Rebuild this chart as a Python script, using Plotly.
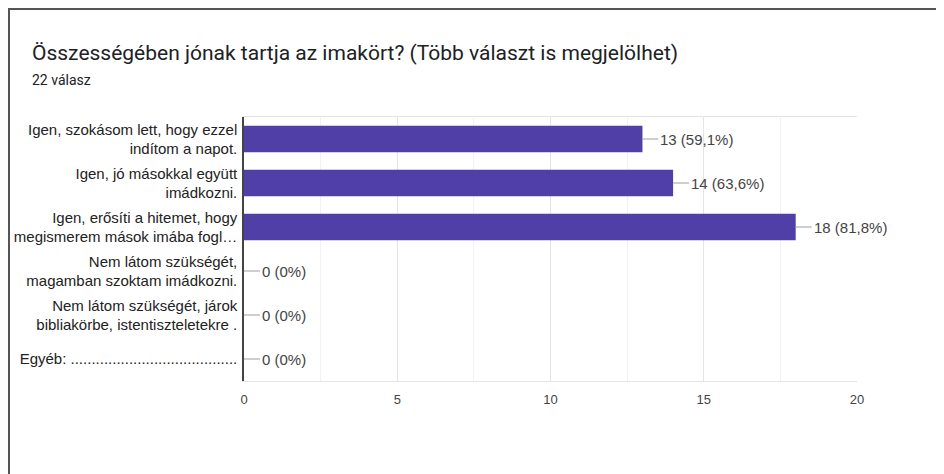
import plotly.graph_objects as go

categories = [
    "Igen, szokásom lett, hogy ezzel<br>indítom a napot.",
    "Igen, jó másokkal együtt<br>imádkozni.",
    "Igen, erősíti a hitemet, hogy<br>megismerem mások imába fogl…",
    "Nem látom szükségét,<br>magamban szoktam imádkozni.",
    "Nem látom szükségét, járok<br>bibliakörbe, istentiszteletekre .",
    "Egyéb: ........................................",
]
counts = [13, 14, 18, 0, 0, 0]
total_responses = 22
x_ticks = [0, 5, 10, 15, 20]

title_text = "Összességében jónak tartja az imakört? (Több választ is megjelölhet)"
subtitle_text = f"{total_responses} válasz"


def label(v):
    pct = v / total_responses * 100
    if abs(pct - round(pct)) < 1e-9:
        p = f"{int(round(pct))}"
    else:
        p = f"{pct:.1f}".replace(".", ",")
    return f"{v} ({p}%)"


TFONT = "Roboto, Arial, sans-serif"
FONT = "Liberation Sans, Arial, sans-serif"
BAR = "#4f3fa6"

# page is offset by the default 8px body margin
O = 8
W, H = 944 - O, 474 - O
L, R, T, B = 244 - O, 87, 117 - O, 93
pw, ph = W - L - R, H - T - B


def px(X):  # page x -> paper
    return (X - O - L) / pw


def py(Y):  # page y -> paper
    return (H - B - (Y - O)) / ph


fig = go.Figure()
fig.add_trace(go.Bar(
    x=counts, y=categories, orientation="h",
    marker=dict(color=BAR, line=dict(width=0)),
    width=0.6, hoverinfo="skip",
))

for v, c in zip(counts, categories):
    fig.add_annotation(
        x=v, y=c, xref="x", yref="y", text=label(v),
        showarrow=True, arrowhead=0, arrowwidth=1, arrowcolor="#9e9e9e",
        ax=16, ay=0, xanchor="left", yanchor="middle",
        font=dict(family=FONT, size=15, color="#444444"),
        standoff=0, startstandoff=0,
    )

# outer frame (left & top)
fig.add_shape(type="line", xref="paper", yref="paper",
              x0=px(O + 1), x1=px(O + 1), y0=py(480), y1=py(O + 1),
              line=dict(color="#555555", width=2))
fig.add_shape(type="line", xref="paper", yref="paper",
              x0=px(O), x1=px(950), y0=py(O + 1), y1=py(O + 1),
              line=dict(color="#555555", width=2))

fig.add_annotation(text=title_text, xref="paper", yref="paper",
                   x=px(30), y=py(53), xanchor="left", yanchor="middle",
                   showarrow=False, font=dict(family=TFONT, size=21, color="#202124"))
fig.add_annotation(text=subtitle_text, xref="paper", yref="paper",
                   x=px(30), y=py(80), xanchor="left", yanchor="middle",
                   showarrow=False, font=dict(family=TFONT, size=14, color="#202124"))

fig.update_layout(
    width=W, height=H,
    margin=dict(l=L, r=R, t=T, b=B, autoexpand=False),
    paper_bgcolor="white", plot_bgcolor="white",
    showlegend=False,
    xaxis=dict(
        range=[0, 20], tickvals=x_ticks, ticktext=[str(t) for t in x_ticks],
        showgrid=True, gridcolor="#e4e4e4", gridwidth=1,
        minor=dict(dtick=2.5, showgrid=True, gridcolor="#f2f2f2", gridwidth=1),
        showline=True, linecolor="#e4e4e4", linewidth=1, mirror=True,
        zeroline=False, ticks="",
        tickfont=dict(family=FONT, size=13, color="#444444"),
        ticklabelstandoff=6, automargin=False,
        fixedrange=True,
    ),
    yaxis=dict(
        categoryorder="array", categoryarray=categories, autorange="reversed",
        showline=True, linecolor="#444444", linewidth=1.5,
        showgrid=False, zeroline=False, ticks="",
        tickfont=dict(family=FONT, size=15, color="#222222"),
        ticklabelstandoff=2, automargin=False,
        fixedrange=True,
    ),
)

fig.write_html("out.html")
